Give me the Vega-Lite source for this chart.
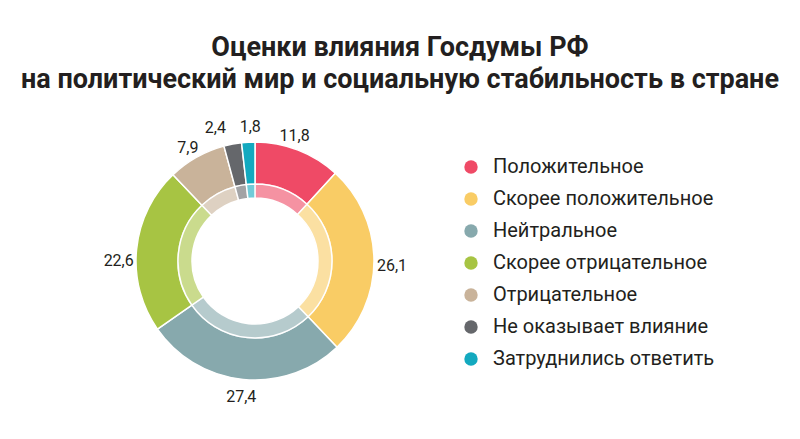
{
  "$schema": "https://vega.github.io/schema/vega-lite/v6.json",
  "width": 510,
  "height": 322,
  "autosize": {"type": "none"},
  "padding": {"left": 0, "top": 100, "right": 290, "bottom": 17},
  "background": "white",
  "title": {
    "text": ["Оценки влияния Госдумы РФ", "на политический мир и социальную стабильность в стране"],
    "anchor": "middle",
    "frame": "group",
    "dx": 145,
    "offset": 6,
    "font": "Roboto",
    "fontSize": 27,
    "fontWeight": "bold",
    "color": "#231f20",
    "lineHeight": 32
  },
  "data": {
    "values": [
      {"category": "Положительное", "value": 11.8, "order": 1},
      {"category": "Скорее положительное", "value": 26.1, "order": 2},
      {"category": "Нейтральное", "value": 27.4, "order": 3},
      {"category": "Скорее отрицательное", "value": 22.6, "order": 4},
      {"category": "Отрицательное", "value": 7.9, "order": 5},
      {"category": "Не оказывает влияние", "value": 2.4, "order": 6},
      {"category": "Затруднились ответить", "value": 1.8, "order": 7}
    ]
  },
  "encoding": {
    "theta": {"field": "value", "type": "quantitative", "stack": true},
    "order": {"field": "order", "type": "quantitative"},
    "color": {
      "field": "category",
      "type": "nominal",
      "scale": {
        "domain": ["Положительное", "Скорее положительное", "Нейтральное", "Скорее отрицательное", "Отрицательное", "Не оказывает влияние", "Затруднились ответить"],
        "range": ["#ef4a66", "#f9cc65", "#87a9ad", "#a7c443", "#c9b39a", "#65676b", "#13a9bf"]
      },
      "legend": {
        "orient": "none",
        "legendX": 461,
        "legendY": 57,
        "title": null,
        "padding": 0,
        "symbolType": "circle",
        "symbolSize": 180,
        "symbolStrokeWidth": 0,
        "labelFont": "Roboto",
        "labelFontSize": 20,
        "labelColor": "#231f20",
        "labelOffset": 12,
        "rowPadding": 12,
        "labelLimit": 400
      }
    }
  },
  "layer": [
    {
      "mark": {"type": "arc", "radius": 119, "radius2": 77, "stroke": "white", "strokeWidth": 1.5}
    },
    {
      "mark": {"type": "arc", "radius": 77, "radius2": 63, "opacity": 0.6, "stroke": "white", "strokeWidth": 1.5}
    },
    {
      "mark": {"type": "text", "radius": 137, "font": "Roboto", "fontSize": 16, "color": "#231f20"},
      "encoding": {
        "text": {"condition": {"test": "datum.order == 1 || datum.order == 2 || datum.order == 4 || datum.order == 5 || datum.order == 6 || datum.order == 7", "value": ""}, "field": "value", "type": "quantitative", "format": ".1f"},
        "color": {"value": "#231f20"}
      }
    },
    {
      "mark": {"type": "text", "radius": 137, "dx": -10, "dy": 3, "font": "Roboto", "fontSize": 16, "color": "#231f20"},
      "encoding": {
        "text": {"condition": {"test": "datum.order != 1", "value": ""}, "field": "value", "type": "quantitative", "format": ".1f"},
        "color": {"value": "#231f20"}
      }
    },
    {
      "mark": {"type": "text", "radius": 137, "dy": 6, "font": "Roboto", "fontSize": 16, "color": "#231f20"},
      "encoding": {
        "text": {"condition": {"test": "datum.order != 2 && datum.order != 5", "value": ""}, "field": "value", "type": "quantitative", "format": ".1f"},
        "color": {"value": "#231f20"}
      }
    },
    {
      "mark": {"type": "text", "radius": 137, "dy": 14, "font": "Roboto", "fontSize": 16, "color": "#231f20"},
      "encoding": {
        "text": {"condition": {"test": "datum.order != 4", "value": ""}, "field": "value", "type": "quantitative", "format": ".1f"},
        "color": {"value": "#231f20"}
      }
    },
    {
      "mark": {"type": "text", "radius": 137, "dx": -14, "dy": 2, "font": "Roboto", "fontSize": 16, "color": "#231f20"},
      "encoding": {
        "text": {"condition": {"test": "datum.order != 6", "value": ""}, "field": "value", "type": "quantitative", "format": ".1f"},
        "color": {"value": "#231f20"}
      }
    },
    {
      "mark": {"type": "text", "radius": 137, "dx": 3, "dy": 3, "font": "Roboto", "fontSize": 16, "color": "#231f20"},
      "encoding": {
        "text": {"condition": {"test": "datum.order != 7", "value": ""}, "field": "value", "type": "quantitative", "format": ".1f"},
        "color": {"value": "#231f20"}
      }
    }
  ],
  "config": {
    "view": {"stroke": null},
    "locale": {
      "number": {"decimal": ",", "thousands": " ", "grouping": [3], "currency": ["", ""]}
    }
  }
}
